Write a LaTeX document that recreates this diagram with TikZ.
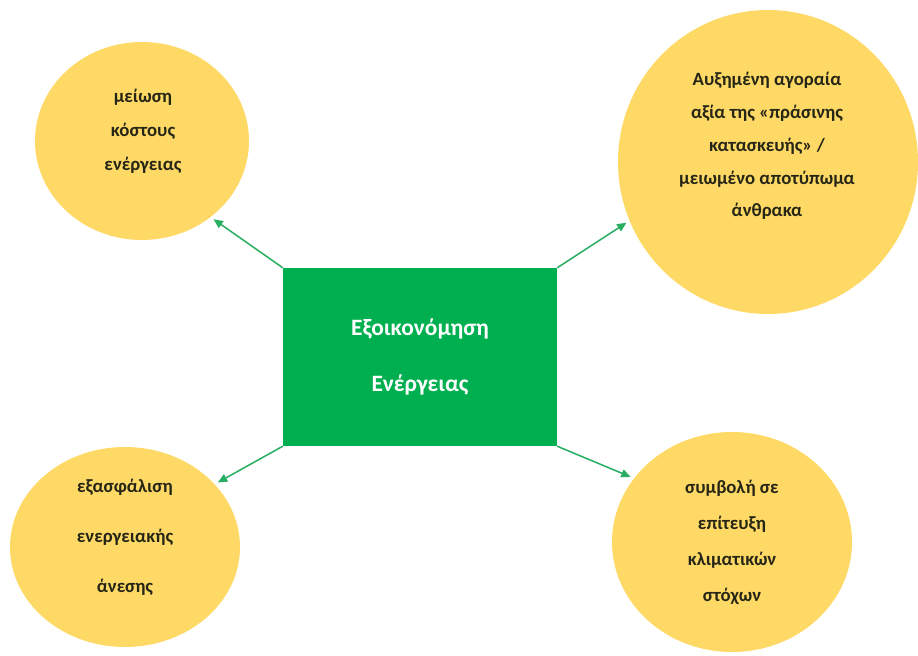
\documentclass[tikz,border=0pt]{standalone}
\usepackage{fontspec}
\setmainfont{Carlito}
\usetikzlibrary{shapes.geometric,arrows.meta}
\definecolor{kitrino}{HTML}{FFD966}
\definecolor{prasino}{HTML}{00B050}
\definecolor{velos}{HTML}{2AAE62}
\definecolor{keimeno}{HTML}{262616}

\begin{document}
\begin{tikzpicture}[
    kyklos/.style={ellipse, fill=kitrino, inner sep=0pt},
    keim/.style={align=center, text=keimeno, font=\fontsize{16}{#1}\selectfont\bfseries},
    velaki/.style={-{Triangle[length=8pt,width=7pt]}, draw=velos, line width=1.3pt, shorten >=3pt},
  ]
  \useasboundingbox (0,0) rectangle (27.54,19.65);

  % circles
  \node[kyklos, minimum width=6.42cm, minimum height=5.94cm] (meiosi) at (4.26,15.42) {};
  \node[kyklos, minimum width=9.0cm, minimum height=9.12cm] (agora) at (23.04,14.79) {};
  \node[kyklos, minimum width=6.9cm, minimum height=6.0cm] (exasf) at (3.75,3.24) {};
  \node[kyklos, minimum width=7.2cm, minimum height=6.6cm] (symvoli) at (21.96,3.39) {};

  \node[keim=29pt] (meiosiT) at (4.29,15.72) {μείωση\\κόστους\\ενέργειας};
  \node[keim=28pt] (agoraT) at (23.01,15.27)
    {Αυξημένη αγοραία\\αξία της «πράσινης\\κατασκευής» /\\μειωμένο αποτύπωμα\\άνθρακα};
  \node[keim=42.7pt] (exasfT) at (3.75,3.54) {εξασφάλιση\\ενεργειακής\\άνεσης};
  \node[keim=30.7pt] (symvoliT) at (21.96,3.39) {συμβολή σε\\επίτευξη\\κλιματικών\\στόχων};

  % centre
  \node[fill=prasino, minimum width=8.22cm, minimum height=5.34cm,
    align=center, text=white, font=\fontsize{20}{47}\selectfont\bfseries]
    (kentro) at (12.6,8.94) {Εξοικονόμηση\\Ενέργειας};

  \draw[velaki] (kentro.north west) -- (meiosi.-48);
  \draw[velaki] (kentro.north east) -- (agora.203);
  \draw[velaki] (kentro.south west) -- (exasf.35);
  \draw[velaki] (kentro.south east) -- (symvoli.147);
\end{tikzpicture}
\end{document}
